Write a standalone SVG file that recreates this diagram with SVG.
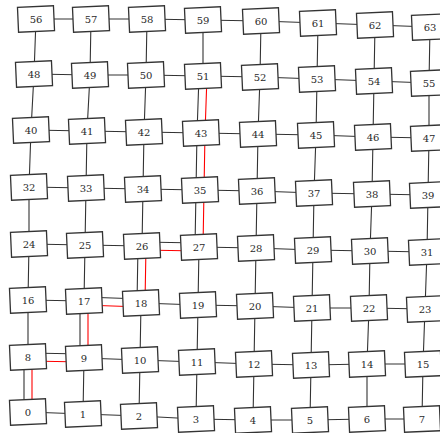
<svg xmlns="http://www.w3.org/2000/svg" width="440" height="433" viewBox="0 0 440 433">
<style>
.e{stroke:#333;stroke-width:1.1;fill:none}
.r{stroke:#f00;stroke-width:1.1;fill:none}
.n rect{fill:#fff;stroke:#333;stroke-width:1.3}
.n text{font-family:"DejaVu Serif","Liberation Serif",serif;font-size:10px;fill:#2a2a2a;text-anchor:middle}
</style>
<rect width="440" height="433" fill="#fff"/>
<g id="edges">
<path class="e" d="M28,412L83,414M83,414L139,416M139,416L196,419M196,419L253,420M253,420L310,420M310,420L367,419M367,419L422,419"/>
<path class="e" d="M84,358L140,360M140,360L197,362M197,362L254,364M254,364L311,365M311,365L367,364M367,364L423,364"/>
<path class="e" d="M28,300L84,301M141,303L198,305M198,305L255,306M255,306L312,308M312,308L369,308M369,308L425,309"/>
<path class="e" d="M29,244L85,245M85,245L142,246M199,247L256,248M256,248L313,250M313,250L370,251M370,251L427,252"/>
<path class="e" d="M29,187L86,188M86,188L143,189M143,189L200,190M200,190L257,191M257,191L314,193M314,193L372,194M372,194L428,195"/>
<path class="e" d="M31,130L87,131M87,131L144,132M144,132L201,133M201,133L258,134M258,134L316,135M316,135L373,137M373,137L429,138"/>
<path class="e" d="M34,74L90,75M90,75L146,75M146,75L203,76M203,76L260,77M260,77L317,79M317,79L374,81M374,81L429,83"/>
<path class="e" d="M36,19L91,19M91,19L147,19M147,19L203,20M203,20L261,21M261,21L318,23M318,23L375,25M375,25L430,27"/>
<path class="e" d="M28,357L28,300M28,300L29,244M29,244L29,187M29,187L31,130M31,130L34,74M34,74L36,19"/>
<path class="e" d="M83,414L84,358M84,301L85,245M85,245L86,188M86,188L87,131M87,131L90,75M90,75L91,19"/>
<path class="e" d="M139,416L140,360M140,360L141,303M142,246L143,189M143,189L144,132M144,132L146,75M146,75L147,19"/>
<path class="e" d="M196,419L197,362M197,362L198,305M198,305L199,247M203,76L203,20"/>
<path class="e" d="M253,420L254,364M254,364L255,306M255,306L256,248M256,248L257,191M257,191L258,134M258,134L260,77M260,77L261,21"/>
<path class="e" d="M310,420L311,365M311,365L312,308M312,308L313,250M313,250L314,193M314,193L316,135M316,135L317,79M317,79L318,23"/>
<path class="e" d="M367,419L367,364M367,364L369,308M369,308L370,251M370,251L372,194M372,194L373,137M373,137L374,81M374,81L375,25"/>
<path class="e" d="M422,419L423,364M423,364L425,309M425,309L427,252M427,252L428,195M428,195L429,138M429,138L429,83M429,83L430,27"/>
<path class="e" d="M24,412L24,357M28,353L84,354M80,358L80,301M84,297L141,299M137,303L138,246M142,242L199,243M195,247L196,190M196,190L197,133M197,133L199,76"/>
<path class="r" d="M32,412L32,357M28,361L84,362M88,358L88,301M84,305L141,307M145,303L146,246M142,250L199,251M203,247L204,190M204,190L205,133M205,133L207,76"/>
</g>
<g id="n0" class="n"><rect x="10" y="399.5" width="36" height="25" transform="rotate(-2.5 28 412)"/><text x="28" y="415.5">0</text></g>
<g id="n1" class="n"><rect x="65" y="401.5" width="36" height="25" transform="rotate(-2.5 83 414)"/><text x="83" y="417.5">1</text></g>
<g id="n2" class="n"><rect x="121" y="403.5" width="36" height="25" transform="rotate(-2.5 139 416)"/><text x="139" y="419.5">2</text></g>
<g id="n3" class="n"><rect x="178" y="406.5" width="36" height="25" transform="rotate(-2.5 196 419)"/><text x="196" y="422.5">3</text></g>
<g id="n4" class="n"><rect x="235" y="407.5" width="36" height="25" transform="rotate(-2.5 253 420)"/><text x="253" y="423.5">4</text></g>
<g id="n5" class="n"><rect x="292" y="407.5" width="36" height="25" transform="rotate(-2.5 310 420)"/><text x="310" y="423.5">5</text></g>
<g id="n6" class="n"><rect x="349" y="406.5" width="36" height="25" transform="rotate(-2.5 367 419)"/><text x="367" y="422.5">6</text></g>
<g id="n7" class="n"><rect x="404" y="406.5" width="36" height="25" transform="rotate(-2.5 422 419)"/><text x="422" y="422.5">7</text></g>
<g id="n8" class="n"><rect x="10" y="344.5" width="36" height="25" transform="rotate(-2.5 28 357)"/><text x="28" y="360.5">8</text></g>
<g id="n9" class="n"><rect x="66" y="345.5" width="36" height="25" transform="rotate(-2.5 84 358)"/><text x="84" y="361.5">9</text></g>
<g id="n10" class="n"><rect x="122" y="347.5" width="36" height="25" transform="rotate(-2.5 140 360)"/><text x="140" y="363.5">10</text></g>
<g id="n11" class="n"><rect x="179" y="349.5" width="36" height="25" transform="rotate(-2.5 197 362)"/><text x="197" y="365.5">11</text></g>
<g id="n12" class="n"><rect x="236" y="351.5" width="36" height="25" transform="rotate(-2.5 254 364)"/><text x="254" y="367.5">12</text></g>
<g id="n13" class="n"><rect x="293" y="352.5" width="36" height="25" transform="rotate(-2.5 311 365)"/><text x="311" y="368.5">13</text></g>
<g id="n14" class="n"><rect x="349" y="351.5" width="36" height="25" transform="rotate(-2.5 367 364)"/><text x="367" y="367.5">14</text></g>
<g id="n15" class="n"><rect x="405" y="351.5" width="36" height="25" transform="rotate(-2.5 423 364)"/><text x="423" y="367.5">15</text></g>
<g id="n16" class="n"><rect x="10" y="287.5" width="36" height="25" transform="rotate(-2.5 28 300)"/><text x="28" y="303.5">16</text></g>
<g id="n17" class="n"><rect x="66" y="288.5" width="36" height="25" transform="rotate(-2.5 84 301)"/><text x="84" y="304.5">17</text></g>
<g id="n18" class="n"><rect x="123" y="290.5" width="36" height="25" transform="rotate(-2.5 141 303)"/><text x="141" y="306.5">18</text></g>
<g id="n19" class="n"><rect x="180" y="292.5" width="36" height="25" transform="rotate(-2.5 198 305)"/><text x="198" y="308.5">19</text></g>
<g id="n20" class="n"><rect x="237" y="293.5" width="36" height="25" transform="rotate(-2.5 255 306)"/><text x="255" y="309.5">20</text></g>
<g id="n21" class="n"><rect x="294" y="295.5" width="36" height="25" transform="rotate(-2.5 312 308)"/><text x="312" y="311.5">21</text></g>
<g id="n22" class="n"><rect x="351" y="295.5" width="36" height="25" transform="rotate(-2.5 369 308)"/><text x="369" y="311.5">22</text></g>
<g id="n23" class="n"><rect x="407" y="296.5" width="36" height="25" transform="rotate(-2.5 425 309)"/><text x="425" y="312.5">23</text></g>
<g id="n24" class="n"><rect x="11" y="231.5" width="36" height="25" transform="rotate(-2.5 29 244)"/><text x="29" y="247.5">24</text></g>
<g id="n25" class="n"><rect x="67" y="232.5" width="36" height="25" transform="rotate(-2.5 85 245)"/><text x="85" y="248.5">25</text></g>
<g id="n26" class="n"><rect x="124" y="233.5" width="36" height="25" transform="rotate(-2.5 142 246)"/><text x="142" y="249.5">26</text></g>
<g id="n27" class="n"><rect x="181" y="234.5" width="36" height="25" transform="rotate(-2.5 199 247)"/><text x="199" y="250.5">27</text></g>
<g id="n28" class="n"><rect x="238" y="235.5" width="36" height="25" transform="rotate(-2.5 256 248)"/><text x="256" y="251.5">28</text></g>
<g id="n29" class="n"><rect x="295" y="237.5" width="36" height="25" transform="rotate(-2.5 313 250)"/><text x="313" y="253.5">29</text></g>
<g id="n30" class="n"><rect x="352" y="238.5" width="36" height="25" transform="rotate(-2.5 370 251)"/><text x="370" y="254.5">30</text></g>
<g id="n31" class="n"><rect x="409" y="239.5" width="36" height="25" transform="rotate(-2.5 427 252)"/><text x="427" y="255.5">31</text></g>
<g id="n32" class="n"><rect x="11" y="174.5" width="36" height="25" transform="rotate(-2.5 29 187)"/><text x="29" y="190.5">32</text></g>
<g id="n33" class="n"><rect x="68" y="175.5" width="36" height="25" transform="rotate(-2.5 86 188)"/><text x="86" y="191.5">33</text></g>
<g id="n34" class="n"><rect x="125" y="176.5" width="36" height="25" transform="rotate(-2.5 143 189)"/><text x="143" y="192.5">34</text></g>
<g id="n35" class="n"><rect x="182" y="177.5" width="36" height="25" transform="rotate(-2.5 200 190)"/><text x="200" y="193.5">35</text></g>
<g id="n36" class="n"><rect x="239" y="178.5" width="36" height="25" transform="rotate(-2.5 257 191)"/><text x="257" y="194.5">36</text></g>
<g id="n37" class="n"><rect x="296" y="180.5" width="36" height="25" transform="rotate(-2.5 314 193)"/><text x="314" y="196.5">37</text></g>
<g id="n38" class="n"><rect x="354" y="181.5" width="36" height="25" transform="rotate(-2.5 372 194)"/><text x="372" y="197.5">38</text></g>
<g id="n39" class="n"><rect x="410" y="182.5" width="36" height="25" transform="rotate(-2.5 428 195)"/><text x="428" y="198.5">39</text></g>
<g id="n40" class="n"><rect x="13" y="117.5" width="36" height="25" transform="rotate(-2.5 31 130)"/><text x="31" y="133.5">40</text></g>
<g id="n41" class="n"><rect x="69" y="118.5" width="36" height="25" transform="rotate(-2.5 87 131)"/><text x="87" y="134.5">41</text></g>
<g id="n42" class="n"><rect x="126" y="119.5" width="36" height="25" transform="rotate(-2.5 144 132)"/><text x="144" y="135.5">42</text></g>
<g id="n43" class="n"><rect x="183" y="120.5" width="36" height="25" transform="rotate(-2.5 201 133)"/><text x="201" y="136.5">43</text></g>
<g id="n44" class="n"><rect x="240" y="121.5" width="36" height="25" transform="rotate(-2.5 258 134)"/><text x="258" y="137.5">44</text></g>
<g id="n45" class="n"><rect x="298" y="122.5" width="36" height="25" transform="rotate(-2.5 316 135)"/><text x="316" y="138.5">45</text></g>
<g id="n46" class="n"><rect x="355" y="124.5" width="36" height="25" transform="rotate(-2.5 373 137)"/><text x="373" y="140.5">46</text></g>
<g id="n47" class="n"><rect x="411" y="125.5" width="36" height="25" transform="rotate(-2.5 429 138)"/><text x="429" y="141.5">47</text></g>
<g id="n48" class="n"><rect x="16" y="61.5" width="36" height="25" transform="rotate(-2.5 34 74)"/><text x="34" y="77.5">48</text></g>
<g id="n49" class="n"><rect x="72" y="62.5" width="36" height="25" transform="rotate(-2.5 90 75)"/><text x="90" y="78.5">49</text></g>
<g id="n50" class="n"><rect x="128" y="62.5" width="36" height="25" transform="rotate(-2.5 146 75)"/><text x="146" y="78.5">50</text></g>
<g id="n51" class="n"><rect x="185" y="63.5" width="36" height="25" transform="rotate(-2.5 203 76)"/><text x="203" y="79.5">51</text></g>
<g id="n52" class="n"><rect x="242" y="64.5" width="36" height="25" transform="rotate(-2.5 260 77)"/><text x="260" y="80.5">52</text></g>
<g id="n53" class="n"><rect x="299" y="66.5" width="36" height="25" transform="rotate(-2.5 317 79)"/><text x="317" y="82.5">53</text></g>
<g id="n54" class="n"><rect x="356" y="68.5" width="36" height="25" transform="rotate(-2.5 374 81)"/><text x="374" y="84.5">54</text></g>
<g id="n55" class="n"><rect x="411" y="70.5" width="36" height="25" transform="rotate(-2.5 429 83)"/><text x="429" y="86.5">55</text></g>
<g id="n56" class="n"><rect x="18" y="6.5" width="36" height="25" transform="rotate(-2.5 36 19)"/><text x="36" y="22.5">56</text></g>
<g id="n57" class="n"><rect x="73" y="6.5" width="36" height="25" transform="rotate(-2.5 91 19)"/><text x="91" y="22.5">57</text></g>
<g id="n58" class="n"><rect x="129" y="6.5" width="36" height="25" transform="rotate(-2.5 147 19)"/><text x="147" y="22.5">58</text></g>
<g id="n59" class="n"><rect x="185" y="7.5" width="36" height="25" transform="rotate(-2.5 203 20)"/><text x="203" y="23.5">59</text></g>
<g id="n60" class="n"><rect x="243" y="8.5" width="36" height="25" transform="rotate(-2.5 261 21)"/><text x="261" y="24.5">60</text></g>
<g id="n61" class="n"><rect x="300" y="10.5" width="36" height="25" transform="rotate(-2.5 318 23)"/><text x="318" y="26.5">61</text></g>
<g id="n62" class="n"><rect x="357" y="12.5" width="36" height="25" transform="rotate(-2.5 375 25)"/><text x="375" y="28.5">62</text></g>
<g id="n63" class="n"><rect x="412" y="14.5" width="36" height="25" transform="rotate(-2.5 430 27)"/><text x="430" y="30.5">63</text></g>
</svg>
